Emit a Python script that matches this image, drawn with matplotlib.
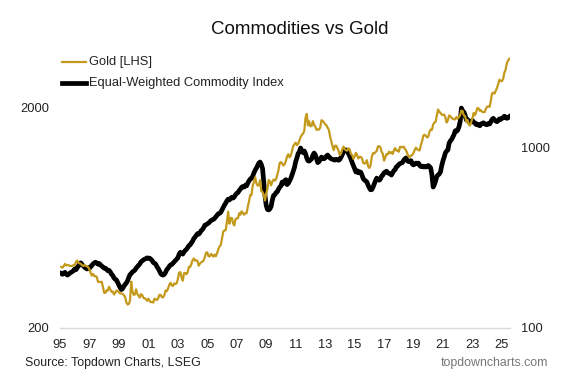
import matplotlib
matplotlib.use("Agg")
import matplotlib.pyplot as plt
import numpy as np

# Monthly values, Jan 1995 .. Jun 2025
gold = [
    379, 376, 382, 391, 385, 387, 386, 383, 383, 383, 386, 387,   # 1995
    399, 405, 396, 393, 392, 385, 383, 387, 383, 381, 378, 369,   # 1996
    355, 346, 352, 344, 344, 341, 324, 324, 323, 325, 306, 289,   # 1997
    289, 297, 296, 308, 299, 292, 293, 284, 289, 296, 294, 291,   # 1998
    287, 287, 286, 282, 277, 262, 256, 257, 265, 325, 293, 283,   # 1999
    284, 300, 286, 280, 275, 285, 282, 274, 273, 270, 266, 272,   # 2000
    265, 262, 263, 261, 272, 270, 268, 273, 283, 283, 276, 276,   # 2001
    282, 296, 294, 302, 314, 321, 313, 310, 319, 317, 319, 333,   # 2002
    357, 359, 340, 328, 355, 356, 351, 359, 379, 379, 390, 407,   # 2003
    414, 405, 406, 404, 384, 392, 398, 400, 406, 420, 439, 442,   # 2004
    424, 423, 434, 429, 422, 431, 424, 438, 457, 470, 476, 510,   # 2005
    549, 555, 557, 610, 676, 596, 633, 632, 598, 585, 627, 629,   # 2006
    631, 665, 655, 679, 667, 655, 665, 665, 712, 754, 806, 803,   # 2007
    889, 922, 968, 909, 888, 890, 939, 839, 829, 806, 760, 816,   # 2008
    858, 943, 925, 890, 928, 946, 934, 949, 996, 1043, 1127, 1135,  # 2009
    1118, 1095, 1113, 1148, 1205, 1233, 1193, 1215, 1271, 1343, 1370, 1391,  # 2010
    1356, 1372, 1424, 1474, 1510, 1529, 1573, 1800, 1880, 1666, 1739, 1652,  # 2011
    1656, 1743, 1675, 1649, 1591, 1596, 1594, 1630, 1760, 1747, 1722, 1685,  # 2012
    1671, 1628, 1593, 1487, 1414, 1343, 1286, 1347, 1349, 1316, 1275, 1221,  # 2013
    1244, 1300, 1336, 1299, 1287, 1279, 1311, 1296, 1239, 1222, 1176, 1200,  # 2014
    1251, 1227, 1179, 1198, 1199, 1181, 1128, 1117, 1125, 1159, 1086, 1068,  # 2015
    1097, 1200, 1246, 1243, 1259, 1276, 1337, 1341, 1326, 1267, 1236, 1152,  # 2016
    1192, 1234, 1231, 1266, 1246, 1260, 1237, 1283, 1315, 1280, 1283, 1265,  # 2017
    1331, 1331, 1325, 1335, 1303, 1282, 1238, 1202, 1199, 1215, 1221, 1250,  # 2018
    1291, 1320, 1300, 1286, 1283, 1359, 1413, 1500, 1511, 1495, 1471, 1480,  # 2019
    1560, 1597, 1592, 1683, 1716, 1732, 1847, 1968, 1922, 1900, 1866, 1858,  # 2020
    1867, 1808, 1718, 1760, 1850, 1834, 1807, 1785, 1776, 1777, 1821, 1790,  # 2021
    1817, 1856, 1948, 1937, 1849, 1837, 1733, 1765, 1681, 1665, 1726, 1798,  # 2022
    1898, 1855, 1913, 1999, 1992, 1943, 1952, 1918, 1916, 1916, 1985, 2030,  # 2023
    2033, 2023, 2159, 2331, 2350, 2326, 2398, 2470, 2571, 2690, 2651, 2648,  # 2024
    2711, 2895, 2984, 3193, 3280, 3350,                                      # 2025
]

commodity = [
    200, 198, 201, 203, 199, 196, 198, 201, 203, 205, 207, 212,   # 1995
    210, 215, 220, 226, 229, 224, 220, 217, 214, 212, 215, 214,   # 1996
    218, 222, 226, 229, 231, 228, 225, 227, 223, 220, 217, 214,   # 1997
    214, 211, 207, 208, 204, 198, 195, 189, 186, 184, 178, 172,   # 1998
    167, 163, 165, 170, 174, 177, 182, 190, 197, 200, 204, 206,   # 1999
    209, 214, 218, 222, 226, 232, 235, 238, 240, 242, 244, 243,   # 2000
    243, 240, 236, 230, 228, 225, 218, 213, 207, 200, 197, 196,   # 2001
    198, 203, 210, 214, 219, 223, 224, 228, 232, 236, 240, 244,   # 2002
    255, 262, 258, 256, 263, 268, 272, 278, 285, 288, 295, 302,   # 2003
    312, 318, 325, 332, 330, 336, 345, 350, 358, 370, 372, 376,   # 2004
    380, 386, 392, 396, 398, 404, 412, 420, 428, 430, 436, 450,   # 2005
    465, 478, 490, 505, 515, 510, 520, 528, 522, 530, 545, 555,   # 2006
    560, 575, 585, 600, 605, 600, 615, 610, 632, 650, 665, 672,   # 2007
    690, 720, 745, 765, 790, 815, 826, 800, 760, 640, 540, 475,   # 2008
    452, 449, 455, 470, 510, 540, 545, 560, 565, 585, 600, 610,   # 2009
    640, 630, 650, 660, 620, 630, 650, 670, 700, 735, 770, 830,   # 2010
    870, 920, 940, 987, 950, 930, 950, 920, 870, 840, 835, 847,   # 2011
    860, 900, 926, 905, 860, 820, 830, 850, 880, 870, 860, 870,   # 2012
    890, 903, 885, 870, 860, 855, 850, 847, 855, 850, 845, 855,   # 2013
    880, 910, 940, 955, 964, 950, 920, 890, 860, 820, 790, 760,   # 2014
    728, 740, 720, 730, 725, 700, 670, 657, 650, 640, 615, 595,   # 2015
    580, 582, 600, 625, 650, 673, 660, 655, 665, 690, 700, 720,   # 2016
    728, 735, 720, 715, 710, 700, 720, 740, 750, 776, 785, 800,   # 2017
    810, 815, 820, 845, 860, 870, 840, 830, 835, 840, 805, 796,   # 2018
    805, 815, 810, 815, 790, 780, 785, 776, 780, 775, 780, 790,   # 2019
    780, 765, 700, 601, 620, 650, 690, 700, 710, 730, 790, 840,   # 2020
    880, 930, 950, 964, 1050, 1080, 1100, 1136, 1170, 1230, 1220, 1240,  # 2021
    1290, 1380, 1641, 1580, 1560, 1500, 1410, 1420, 1380, 1370, 1390, 1400,  # 2022
    1370, 1358, 1330, 1340, 1320, 1310, 1340, 1350, 1360, 1345, 1330, 1329,  # 2023
    1350, 1340, 1380, 1420, 1440, 1410, 1390, 1380, 1400, 1430, 1420, 1440,  # 2024
    1450, 1480, 1460, 1440, 1450, 1470,                                      # 2025
]

start_year = 1995
tick_years = list(range(1995, 2026, 2))
tick_labels = [f"{y % 100:02d}" for y in tick_years]

title = "Commodities vs Gold"
gold_label = "Gold [LHS]"
comm_label = "Equal-Weighted Commodity Index"
source = "Source: Topdown Charts, LSEG"
brand = "topdowncharts.com"

GOLD = "#C49A1C"
FS = 9.3
plt.rcParams['font.family'] = ['Liberation Sans', 'DejaVu Sans']

W, H = 571, 381
fig = plt.figure(figsize=(W / 100, H / 100), dpi=100)

# axes in pixel coordinates
ax_l, ax_r, ax_b, ax_t = 60, 510, 328, 50
ax = fig.add_axes([ax_l / W, 1 - ax_b / H, (ax_r - ax_l) / W, (ax_b - ax_t) / H])
ax2 = ax.twinx()

x = start_year + (np.arange(len(gold)) + 1) / 12.0
xc = start_year + (np.arange(len(commodity)) + 1) / 12.0

ax.plot(x, gold, color=GOLD, lw=1.6, zorder=2)
ax2.plot(xc, commodity, color="black", lw=3.4, zorder=3)
ax.set_zorder(ax2.get_zorder() + 1)
ax.patch.set_visible(False)

ax.set_yscale("log")
ax2.set_yscale("log")
px_per_year = 14.73
ax.set_xlim(1995, 1995 + (ax_r - ax_l) / px_per_year)
ax.set_ylim(200, 200 * 10 ** ((ax_b - ax_t) / 220))
ax2.set_ylim(100, 100 * 10 ** ((ax_b - ax_t) / 181))

ax.set_yticks([200, 2000])
ax.set_yticklabels(["200", "2000"])
ax.yaxis.set_minor_locator(matplotlib.ticker.NullLocator())
ax2.set_yticks([100, 1000])
ax2.set_yticklabels(["100", "1000"])
ax2.yaxis.set_minor_locator(matplotlib.ticker.NullLocator())
ax.set_xticks(tick_years)
ax.set_xticklabels(tick_labels)

for a in (ax, ax2):
    for s in a.spines.values():
        s.set_visible(False)
    a.tick_params(length=0, labelsize=FS, colors="#222222")
ax.spines["bottom"].set_visible(True)
ax.spines["bottom"].set_color("#d9d9d9")
ax.spines["bottom"].set_linewidth(1.0)
ax.tick_params(axis="y", pad=8)
ax.tick_params(axis="x", pad=8)
ax2.tick_params(axis="y", pad=8)

fig.text(300 / W, 1 - 30 / H, title, ha="center", va="center", fontsize=13.5, color="#111111")

# legend (drawn manually as lines + text in figure coords)
from matplotlib.lines import Line2D
fig.add_artist(Line2D([62 / W, 86 / W], [1 - 62 / H, 1 - 62 / H], color=GOLD, lw=1.6))
fig.text(89 / W, 1 - 62 / H, gold_label, ha="left", va="center", fontsize=FS, color="#222222")
fig.add_artist(Line2D([62 / W, 86 / W], [1 - 83 / H, 1 - 83 / H], color="black", lw=3.4))
fig.text(89 / W, 1 - 83 / H, comm_label, ha="left", va="center", fontsize=FS, color="#222222")

fig.text(25 / W, 1 - 363 / H, source, ha="left", va="center", fontsize=8.9, color="#222222")
fig.text(548 / W, 1 - 363 / H, brand, ha="right", va="center", fontsize=8.9, color="#777777")

fig.savefig("out.png", dpi=100)
